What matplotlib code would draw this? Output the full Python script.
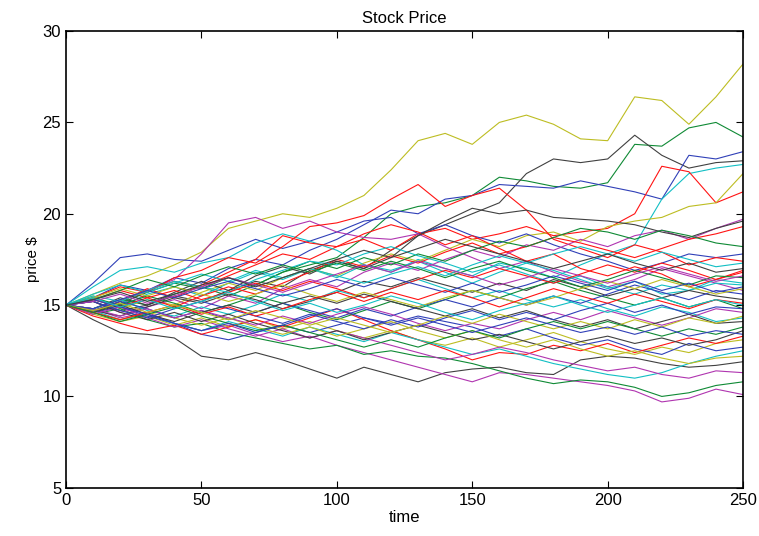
import matplotlib
matplotlib.use("Agg")
import matplotlib.pyplot as plt

plt.rcParams['font.family'] = ['Liberation Sans', 'DejaVu Sans']

# sample times, one value every 10 steps
t = list(range(0, 251, 10))

# colour codes used by each path
clr = {
    'b': '#3040b8', 'g': '#0f8a35', 'r': '#ff1414', 'c': '#12bfc4',
    'm': '#b035b0', 'y': '#bdbd22', 'k': '#404040',
}

paths = [
    ('y', [15, 15.6, 16.2, 16.6, 17.2, 17.9, 19.2, 19.6, 20.0, 19.8, 20.3, 21.0, 22.4, 24.0, 24.4, 23.8, 25.0, 25.4, 24.9, 24.1, 24.0, 26.4, 26.2, 24.9, 26.4, 28.2]),
    ('g', [15, 14.8, 15.3, 15.0, 15.6, 16.0, 15.5, 16.1, 16.8, 17.2, 17.6, 18.7, 20.0, 20.4, 20.6, 21.0, 22.0, 21.8, 21.5, 21.4, 21.7, 23.8, 23.7, 24.7, 25.0, 24.2]),
    ('k', [15, 15.2, 14.7, 15.0, 15.5, 15.2, 15.8, 16.3, 16.0, 16.9, 17.4, 17.0, 18.0, 18.8, 19.4, 20.0, 20.6, 22.2, 23.0, 22.8, 23.0, 24.3, 23.2, 22.5, 22.8, 22.9]),
    ('b', [15, 15.4, 16.1, 15.8, 16.5, 16.2, 17.0, 17.5, 17.2, 18.0, 18.6, 19.4, 20.2, 20.0, 20.8, 21.0, 21.6, 21.5, 21.4, 21.8, 21.5, 21.2, 20.8, 23.2, 23.0, 23.4]),
    ('c', [15, 15.3, 14.9, 15.6, 16.0, 15.5, 16.2, 16.8, 16.4, 17.0, 16.5, 17.2, 16.8, 17.5, 17.0, 16.6, 17.3, 17.0, 16.5, 17.2, 17.8, 18.3, 20.8, 22.2, 22.5, 22.7]),
    ('r', [15, 14.6, 15.2, 15.8, 16.3, 16.0, 16.6, 17.2, 17.8, 17.5, 18.2, 18.6, 18.0, 18.9, 19.2, 18.6, 18.9, 19.3, 18.8, 19.0, 19.2, 20.0, 22.6, 22.3, 20.6, 21.2]),
    ('y', [15, 15.5, 14.8, 15.3, 15.0, 15.7, 16.2, 15.8, 16.5, 17.0, 16.6, 17.3, 17.8, 17.4, 18.0, 18.6, 18.2, 18.8, 19.0, 18.5, 19.3, 19.6, 19.8, 20.4, 20.6, 22.2]),
    ('k', [15, 14.2, 13.5, 13.4, 13.2, 12.2, 12.0, 12.4, 12.0, 11.5, 11.0, 11.6, 11.2, 10.8, 11.3, 11.5, 11.6, 11.3, 11.2, 12.0, 12.2, 12.1, 11.8, 11.6, 11.7, 11.9]),
    ('m', [15, 14.8, 14.3, 14.6, 14.0, 13.6, 13.9, 13.4, 13.0, 13.3, 12.8, 12.4, 12.0, 11.6, 11.2, 10.8, 11.3, 11.2, 11.0, 10.8, 10.6, 10.3, 9.7, 9.9, 10.4, 10.1]),
    ('g', [15, 14.5, 14.8, 14.2, 13.8, 14.0, 13.5, 13.2, 12.9, 12.6, 12.8, 12.3, 12.5, 12.2, 12.1, 11.8, 11.4, 11.0, 10.7, 10.9, 10.8, 10.5, 10.0, 10.2, 10.6, 10.8]),
    ('b', [15, 16.2, 17.6, 17.8, 17.5, 17.4, 18.0, 18.6, 18.1, 18.5, 19.0, 19.6, 19.8, 18.9, 19.4, 18.8, 18.4, 18.9, 18.3, 17.8, 17.4, 16.9, 17.3, 17.8, 17.6, 17.8]),
    ('m', [15, 15.3, 15.0, 15.8, 16.4, 17.8, 19.5, 19.8, 19.2, 19.6, 19.0, 18.7, 18.6, 18.9, 18.2, 17.6, 17.0, 17.4, 16.8, 16.3, 16.0, 16.4, 17.0, 16.6, 16.2, 15.8]),
    ('c', [15, 16.0, 16.9, 17.1, 16.8, 17.3, 17.6, 18.4, 18.9, 18.5, 18.0, 17.2, 16.9, 17.4, 16.8, 16.2, 16.8, 17.3, 16.9, 16.4, 15.9, 16.3, 15.6, 15.8, 16.2, 16.1]),
    ('r', [15, 15.4, 16.0, 15.7, 16.5, 16.9, 17.6, 17.3, 18.2, 19.3, 19.5, 19.9, 20.8, 21.6, 20.4, 21.0, 21.4, 20.2, 18.6, 18.1, 17.6, 18.3, 17.9, 17.2, 17.6, 17.4]),
    ('r', [15, 14.7, 15.2, 15.9, 15.4, 16.1, 16.8, 17.5, 18.8, 18.4, 18.2, 18.9, 19.4, 19.0, 18.3, 18.8, 18.1, 17.4, 17.8, 17.0, 16.6, 17.1, 16.7, 16.0, 16.4, 16.9]),
    ('m', [15, 15.2, 14.6, 14.9, 15.3, 14.8, 15.5, 15.1, 15.9, 16.4, 16.0, 16.8, 17.3, 16.9, 17.5, 18.0, 17.6, 18.3, 18.0, 18.6, 18.2, 18.8, 19.1, 18.6, 19.2, 19.7]),
    ('k', [15, 14.8, 15.4, 15.0, 15.7, 16.3, 15.8, 16.6, 17.1, 16.7, 17.4, 17.0, 17.6, 18.8, 19.6, 20.3, 20.0, 20.2, 19.8, 19.7, 19.6, 19.4, 19.0, 18.7, 19.2, 19.6]),
    ('r', [15, 15.3, 15.8, 15.4, 14.9, 15.5, 16.0, 15.6, 16.2, 16.8, 17.5, 17.1, 17.7, 17.3, 17.9, 18.4, 17.8, 18.2, 18.7, 18.4, 18.0, 17.6, 18.1, 18.6, 18.9, 19.3]),
    ('g', [15, 14.6, 15.1, 15.7, 16.2, 15.9, 16.5, 16.1, 16.8, 17.4, 17.0, 17.6, 17.2, 17.8, 17.4, 18.0, 18.5, 18.2, 18.7, 19.2, 19.0, 18.6, 19.1, 18.8, 18.4, 18.2]),
    ('c', [15, 15.5, 15.2, 15.8, 16.3, 16.0, 15.7, 16.4, 16.9, 17.4, 17.2, 17.8, 18.2, 17.7, 17.3, 16.8, 17.2, 16.7, 16.2, 16.6, 16.0, 15.6, 16.1, 15.8, 16.4, 16.2]),
    ('k', [15, 14.7, 14.4, 14.9, 15.4, 15.1, 15.6, 15.3, 14.8, 15.2, 15.7, 16.3, 16.0, 16.5, 16.1, 15.7, 16.2, 15.8, 16.4, 16.0, 15.5, 15.9, 15.4, 15.8, 15.5, 15.3]),
    ('c', [15, 14.8, 15.3, 14.7, 14.4, 14.9, 14.5, 15.0, 15.6, 15.2, 15.8, 15.4, 15.9, 16.4, 15.9, 15.4, 15.8, 15.3, 14.9, 15.3, 14.8, 14.4, 14.9, 14.6, 14.1, 14.3]),
    ('y', [15, 14.5, 14.1, 14.4, 13.9, 14.3, 13.8, 14.2, 13.7, 14.1, 13.6, 13.2, 13.6, 13.1, 12.8, 13.2, 12.7, 13.1, 13.5, 13.0, 12.6, 12.3, 12.7, 12.4, 12.9, 13.1]),
    ('b', [15, 14.6, 14.9, 14.4, 14.0, 13.4, 13.1, 13.5, 13.9, 13.5, 13.9, 14.3, 14.0, 14.4, 14.1, 13.8, 13.3, 13.7, 13.2, 12.8, 13.1, 12.6, 12.3, 12.9, 12.5, 12.7]),
    ('r', [15, 14.4, 14.0, 13.6, 13.9, 13.4, 13.8, 14.2, 13.8, 14.3, 14.8, 14.2, 13.6, 13.1, 12.6, 12.0, 12.4, 12.3, 12.8, 12.5, 12.9, 12.4, 12.8, 13.2, 12.9, 13.3]),
    ('c', [15, 14.7, 14.2, 14.5, 14.0, 13.6, 14.1, 13.7, 13.3, 13.8, 13.4, 13.0, 13.5, 13.1, 12.7, 12.3, 12.6, 12.2, 11.8, 11.5, 11.2, 11.0, 11.3, 11.8, 12.2, 12.5]),
    ('m', [15, 14.5, 14.9, 14.3, 13.8, 14.2, 13.7, 13.3, 13.7, 13.2, 13.6, 13.2, 12.8, 12.4, 12.0, 12.3, 12.7, 12.4, 12.0, 11.7, 11.4, 11.6, 11.2, 11.0, 11.4, 11.3]),
    ('k', [15, 15.2, 14.6, 14.2, 14.6, 14.1, 14.5, 14.0, 13.6, 13.2, 13.6, 13.1, 13.5, 13.9, 13.5, 13.1, 13.4, 13.0, 12.6, 13.0, 13.3, 12.9, 13.2, 12.8, 13.1, 13.6]),
    ('y', [15, 14.6, 14.2, 14.6, 14.3, 13.9, 14.3, 13.8, 13.4, 13.8, 13.3, 13.7, 14.1, 13.6, 13.2, 13.6, 13.1, 12.7, 13.1, 12.6, 12.2, 12.5, 12.1, 11.8, 12.1, 12.2]),
    ('g', [15, 15.4, 15.0, 15.5, 15.1, 14.6, 15.0, 15.5, 15.1, 14.6, 14.2, 14.7, 15.2, 14.8, 15.3, 15.8, 15.4, 15.9, 16.3, 15.8, 15.4, 15.0, 15.4, 14.9, 15.3, 14.8]),
    ('b', [15, 14.7, 15.2, 14.8, 14.3, 14.7, 14.2, 14.6, 15.1, 14.7, 14.3, 14.8, 14.4, 14.9, 15.3, 14.9, 15.4, 15.0, 15.5, 15.1, 15.6, 16.1, 15.7, 15.3, 15.8, 15.6]),
    ('r', [15, 15.3, 14.9, 15.4, 15.8, 15.3, 15.7, 16.2, 15.8, 16.3, 15.9, 15.4, 15.9, 16.4, 16.9, 16.5, 17.0, 16.6, 16.2, 16.7, 17.2, 16.8, 17.3, 16.9, 16.4, 16.8]),
    ('m', [15, 14.8, 14.4, 14.8, 14.3, 14.7, 14.3, 13.9, 14.4, 14.0, 14.5, 14.9, 14.5, 14.0, 13.6, 14.0, 13.7, 14.2, 14.6, 14.2, 14.7, 14.3, 13.9, 14.3, 14.8, 14.6]),
    ('y', [15, 15.4, 15.9, 15.5, 16.0, 15.6, 15.2, 15.6, 16.1, 15.6, 15.2, 15.7, 15.3, 14.9, 15.4, 15.8, 15.4, 15.0, 15.4, 15.9, 16.3, 15.9, 16.4, 16.0, 15.6, 15.9]),
    ('k', [15, 14.6, 15.0, 14.5, 14.1, 14.6, 15.0, 14.6, 15.1, 15.5, 15.1, 15.6, 15.2, 14.8, 14.4, 14.8, 14.3, 14.7, 14.2, 13.8, 14.2, 13.7, 14.1, 14.5, 14.0, 14.1]),
    ('b', [15, 15.2, 14.7, 14.3, 14.8, 15.2, 14.8, 14.4, 14.0, 14.5, 14.1, 13.7, 14.2, 13.8, 14.3, 14.7, 14.2, 14.6, 14.2, 14.7, 15.1, 14.6, 15.0, 14.5, 14.9, 14.8]),
    ('c', [15, 15.6, 16.1, 15.7, 16.2, 16.7, 16.3, 16.9, 16.5, 17.0, 16.6, 16.2, 16.7, 17.1, 16.6, 17.2, 17.7, 17.3, 17.8, 18.2, 17.8, 17.4, 17.9, 17.5, 17.1, 17.3]),
    ('g', [15, 15.3, 15.8, 16.4, 16.0, 16.6, 17.1, 16.7, 17.2, 16.8, 17.3, 16.9, 17.4, 17.0, 16.5, 17.0, 17.4, 16.9, 16.5, 16.0, 16.4, 16.9, 16.5, 16.1, 16.6, 16.5]),
    ('b', [15, 14.8, 15.3, 15.8, 15.4, 15.9, 16.3, 15.9, 15.5, 15.9, 16.4, 16.0, 16.5, 16.1, 15.7, 16.2, 15.7, 16.1, 16.6, 16.2, 15.8, 16.3, 15.8, 16.2, 15.7, 16.0]),
    ('r', [15, 14.6, 14.2, 14.6, 15.0, 14.5, 14.9, 14.4, 14.8, 15.3, 15.7, 15.2, 15.7, 15.3, 15.8, 15.4, 14.9, 15.4, 15.9, 15.5, 15.1, 15.6, 15.2, 14.8, 15.3, 15.1]),
    ('m', [15, 15.2, 15.6, 15.1, 15.5, 16.0, 16.5, 16.1, 15.7, 16.2, 16.7, 17.2, 16.8, 17.4, 17.0, 16.6, 16.1, 16.5, 17.0, 16.6, 16.2, 16.7, 17.1, 16.7, 16.3, 16.6]),
    ('y', [15, 14.7, 15.1, 14.6, 15.0, 14.6, 14.2, 14.7, 14.3, 13.9, 14.3, 13.9, 13.5, 13.9, 14.4, 14.0, 14.5, 14.1, 13.7, 14.1, 13.7, 14.2, 13.8, 14.3, 14.0, 14.4]),
    ('g', [15, 14.6, 14.1, 14.5, 14.9, 14.4, 14.0, 13.6, 13.9, 13.5, 13.1, 12.7, 13.1, 12.7, 13.2, 13.6, 13.2, 13.7, 14.1, 13.7, 14.1, 13.7, 13.3, 13.7, 13.4, 13.8]),
    ('b', [15, 15.3, 14.9, 14.5, 14.0, 13.6, 14.0, 13.5, 13.9, 14.4, 14.8, 14.3, 13.9, 14.3, 13.9, 13.5, 13.9, 14.3, 13.9, 13.5, 13.8, 13.4, 13.8, 13.3, 13.6, 13.4]),
    ('c', [15, 15.4, 14.9, 15.3, 14.8, 15.2, 15.7, 15.2, 14.7, 15.1, 14.6, 15.0, 15.5, 15.1, 14.6, 14.2, 14.7, 15.1, 15.5, 15.0, 14.6, 15.0, 15.4, 14.9, 15.3, 15.0]),
    ('k', [15, 15.3, 15.7, 15.2, 15.6, 16.1, 16.5, 16.0, 16.5, 17.0, 17.5, 18.0, 17.6, 18.1, 18.6, 18.2, 17.8, 17.4, 17.0, 17.4, 17.8, 17.3, 16.9, 17.3, 16.8, 17.0]),
]

fig = plt.figure(figsize=(7.59, 5.36), dpi=100)
ax = fig.add_axes([0.087, 0.090, 0.892, 0.852])

for c, vals in paths:
    ax.plot(t, vals, color=clr[c], lw=0.8)

ax.set_xlim(0, 250)
ax.set_ylim(5, 30)
ax.set_xticks([0, 50, 100, 150, 200, 250])
ax.set_yticks([5, 10, 15, 20, 25, 30])
ax.tick_params(direction='in', top=True, right=True, length=5, labelsize=12)
for s in ax.spines.values():
    s.set_linewidth(1.2)

ax.set_title("Stock Price", fontsize=12)
ax.set_xlabel("time", fontsize=12, labelpad=2)
ax.set_ylabel(r"price \$", fontsize=11, labelpad=2)

fig.savefig("out.png", dpi=100)
